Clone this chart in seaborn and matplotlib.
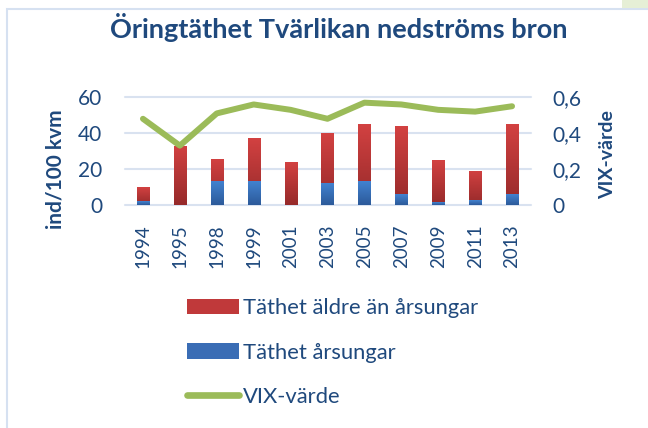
import numpy as np
import pandas as pd
import matplotlib
matplotlib.use("Agg")
import matplotlib.pyplot as plt
import seaborn as sns
from matplotlib.patches import Patch, Rectangle
from matplotlib.lines import Line2D
from matplotlib.colors import LinearSegmentedColormap

years = ['1994', '1995', '1998', '1999', '2001', '2003', '2005', '2007', '2009', '2011', '2013']
arsungar = [2, 0, 13, 13, 0, 12, 13, 6, 1.5, 2.5, 6]
aldre = [8, 33, 12.5, 24, 24, 28, 32, 38, 23.5, 16.5, 39]
vix = [0.48, 0.33, 0.51, 0.56, 0.53, 0.48, 0.57, 0.56, 0.53, 0.52, 0.55]

title = 'Öringtäthet Tvärlikan nedströms bron'
ylabel_left = 'ind/100 kvm'
ylabel_right = 'VIX-värde'
legend_labels = ['Täthet äldre än årsungar', 'Täthet årsungar', 'VIX-värde']
left_ticks = [0, 20, 40, 60]
right_ticks = [0, 0.2, 0.4, 0.6]
right_ticklabels = ['0', '0,2', '0,4', '0,6']

sns.set_theme(style='white')
plt.rcParams['font.family'] = ['Lato', 'DejaVu Sans']

TXT = '#1F497D'
RED = '#C0393A'
BLUE = '#3A6DB5'
GREEN = '#9BBB59'
GRID = '#D9E2F0'

df = pd.DataFrame({'year': years, 'arsungar': arsungar, 'aldre': aldre, 'vix': vix})
df['total'] = df['arsungar'] + df['aldre']

fig = plt.figure(figsize=(6.48, 4.28), dpi=100)
W, H = 648, 428
ax = fig.add_axes([124.5 / W, 1 - 204.7 / H, (530.5 - 124.5) / W, (204.7 - 97.3) / H])

sns.barplot(data=df, x='year', y='total', color=RED, width=0.33, ax=ax, saturation=1, zorder=3)
n_red = len(ax.patches)
sns.barplot(data=df, x='year', y='arsungar', color=BLUE, width=0.33, ax=ax, saturation=1, zorder=3)

# vertical gradients on bars
red_cmap = LinearSegmentedColormap.from_list('r', ['#962A2A', '#D24141'])
blue_cmap = LinearSegmentedColormap.from_list('b', ['#2C5A9A', '#4282D0'])
grad = np.linspace(0, 1, 64).reshape(-1, 1)
patches = list(ax.patches)
for i, p in enumerate(patches):
    x0, y0 = p.get_x(), p.get_y()
    w, h = p.get_width(), p.get_height()
    if h <= 0:
        continue
    cmap = red_cmap if i < n_red else blue_cmap
    im = ax.imshow(grad, extent=[x0, x0 + w, y0, y0 + h], origin='lower', cmap=cmap,
                   aspect='auto', zorder=3.5 if i < n_red else 3.6)
    im.set_clip_path(p)
    p.set_facecolor('none')
    p.set_edgecolor('none')

ax.set_xlim(-0.5, len(years) - 0.5)
ax.set_ylim(0, 60)
ax.set_yticks(left_ticks)
ax.set_yticklabels([str(t) for t in left_ticks])
ax.grid(False)
for y in left_ticks:
    ax.axhline(y, color=GRID, lw=1.5, zorder=1, clip_on=False)
for s in ax.spines.values():
    s.set_visible(False)
ax.set_xlabel('')
ax.set_ylabel('')
ax.tick_params(axis='y', length=0, pad=16, labelsize=15, labelcolor=TXT)
ax.tick_params(axis='x', length=0, pad=14, labelsize=13.5, labelcolor=TXT, rotation=90)

ax2 = ax.twinx()
sns.lineplot(x=np.arange(len(years)), y=vix, ax=ax2, color=GREEN, lw=4.3, zorder=5,
             solid_capstyle='round', solid_joinstyle='round')
ax2.set_ylim(0, 0.6)
ax2.set_yticks(right_ticks)
ax2.set_yticklabels(right_ticklabels)
ax2.set_ylabel('')
for s in ax2.spines.values():
    s.set_visible(False)
ax2.tick_params(axis='y', length=0, pad=16, labelsize=15, labelcolor=TXT)
ax2.set_xlim(-0.5, len(years) - 0.5)

fig.text(339 / W, 1 - 37.7 / H, title, ha='center', va='baseline', fontsize=19.5,
         fontweight='bold', color=TXT)
fig.text(56 / W, 1 - 169 / H, ylabel_left, rotation=90, ha='center', va='center',
         fontsize=15, fontweight='bold', color=TXT)
fig.text(608 / W, 1 - 155 / H, ylabel_right, rotation=90, ha='center', va='center',
         fontsize=14, fontweight='bold', color=TXT)

handles = [Patch(facecolor=RED, edgecolor='none'), Patch(facecolor=BLUE, edgecolor='none'),
           Line2D([0], [0], color=GREEN, lw=4.8, solid_capstyle='round')]
fig.legend(handles, legend_labels, loc='upper left', bbox_to_anchor=(187 / W, 1 - 298 / H),
           frameon=False, fontsize=15.8, labelcolor=TXT, handlelength=2.35, handletextpad=0.2,
           labelspacing=1.12, borderpad=0, borderaxespad=0)

# chart frame and decoration
fig.patches.append(Rectangle((6.7 / W, -0.1), 1.2, 1 - 9 / H + 0.1, transform=fig.transFigure,
                             facecolor='none', edgecolor='#D6E1F1', lw=1.5, zorder=0))
fig.patches.append(Rectangle((622 / W, 1 - 7.5 / H), 30 / W, 8 / H, transform=fig.transFigure,
                             facecolor='#E6EFD6', edgecolor='none', zorder=0))

fig.savefig('out.png', dpi=100)
